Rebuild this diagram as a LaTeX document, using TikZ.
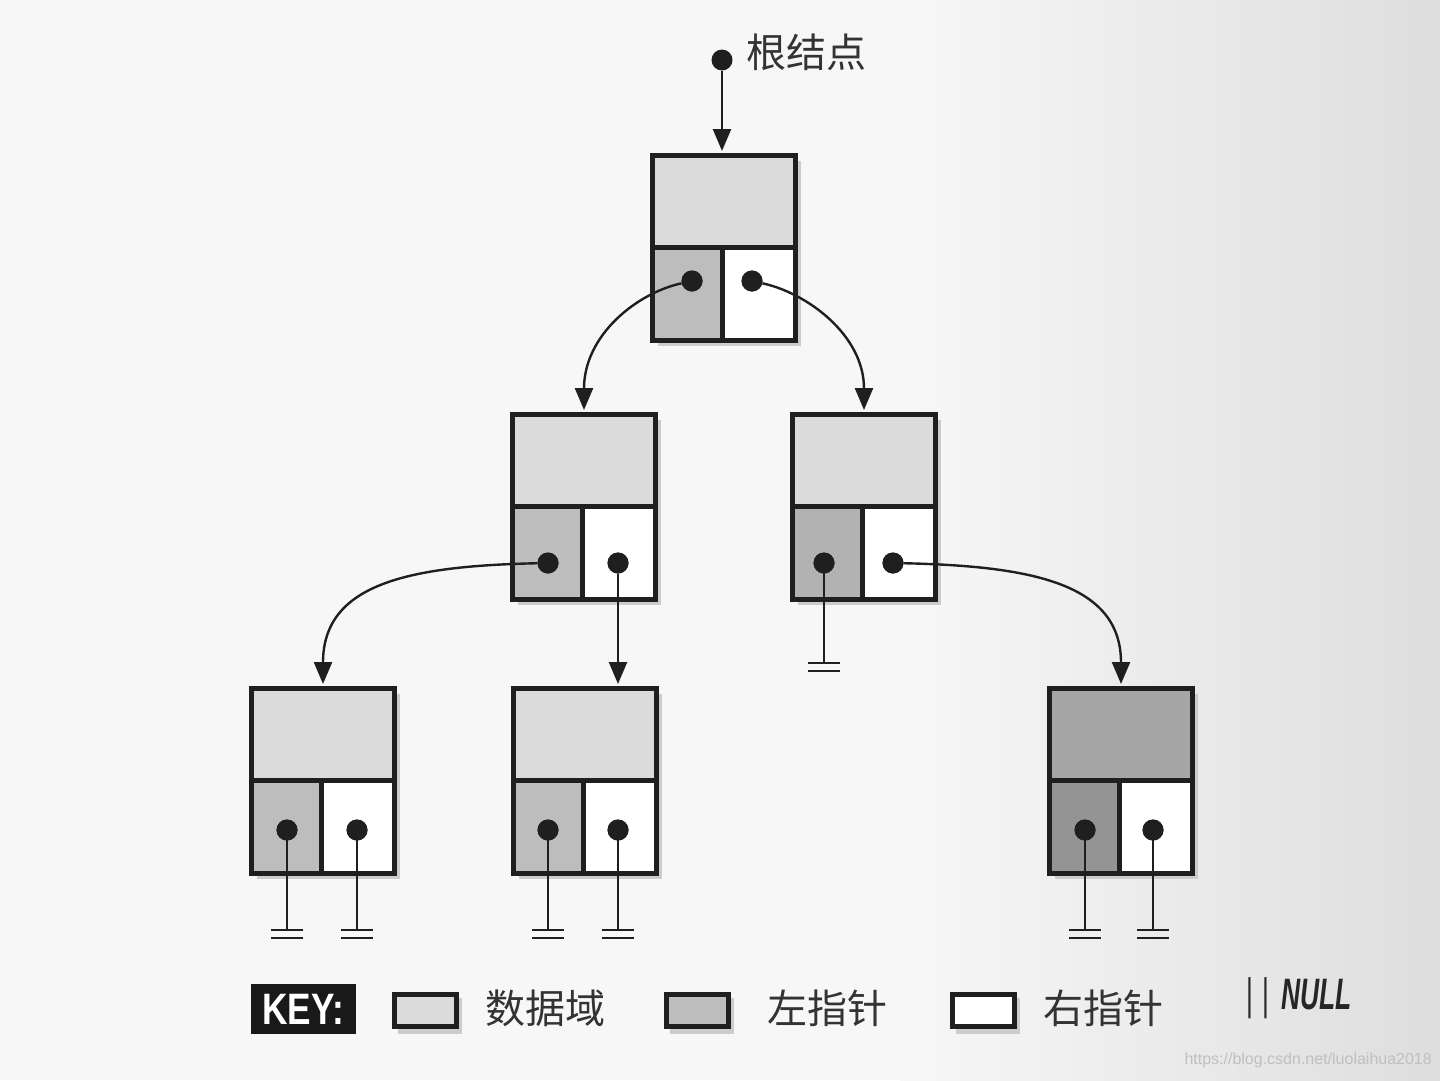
\documentclass[tikz,border=0pt]{standalone}
\usepackage{graphicx}
\usepackage{fontspec}
\setmainfont{Liberation Sans}
\newfontfamily\cjk{Noto Sans CJK SC}
\usetikzlibrary{arrows.meta,calc}
\definecolor{datac}{gray}{0.86}
\definecolor{leftc}{gray}{0.74}
\definecolor{leftdark}{gray}{0.70}
\definecolor{datadark}{gray}{0.65}
\definecolor{leftdarker}{gray}{0.58}
\definecolor{inkc}{gray}{0.12}
\tikzset{
  box/.style={draw=inkc, line width=5pt, inner sep=0pt, anchor=north west},
  dot/.style={circle, fill=inkc, minimum size=21pt, inner sep=0pt},
  link/.style={line width=2.4pt, draw=inkc, -{Triangle[width=18pt,length=22pt]}},
  nullline/.style={line width=2.4pt, draw=inkc},
  cjktext/.style={font=\cjk\fontsize{40}{40}\selectfont, text=black!80, inner sep=0pt},
  keybox/.style={draw=inkc, line width=5pt, inner sep=0pt, minimum width=62pt, minimum height=32pt},
  shadowc/.style={fill=black!20},
}
% #1 name, #2 x, #3 y, #4 data fill, #5 left fill, #6 dot y offset, #7 left dot x offset, #8 right dot x offset
\newcommand\tnode[8]{%
  \fill[shadowc] (#2+8,#3+8) rectangle (#2+151,#3+193);
  \node[box, fill=#4, minimum width=143pt, minimum height=92pt] (#1) at (#2,#3) {};
  \node[box, fill=#5, minimum width=70pt, minimum height=93pt] (#1L) at (#2,#3+92) {};
  \node[box, fill=white, minimum width=73pt, minimum height=93pt] (#1R) at (#2+70,#3+92) {};
  \node[dot] (#1l) at (#2+#7,#3+#6) {};
  \node[dot] (#1r) at (#2+#8,#3+#6) {};
}
% #1 coordinate name, #2 dot node, #3 end y
\newcommand\nullptr[3]{%
  \coordinate (#1) at (#2 |- 0,#3);
  \draw[nullline] (#2.center) -- (#1);
  \draw[nullline] (#1) ++(-16,0) -- ++(32,0);
  \draw[nullline] (#1) ++(-16,8) -- ++(32,0);
}
\begin{document}
\begin{tikzpicture}[x=1pt,y=-1pt]
\useasboundingbox (0,0) rectangle (1440,1080);
\fill[black!3] (0,0) rectangle (1440,1080);
\shade[left color=black!3, right color=black!13] (900,0) rectangle (1440,1080);

% tree nodes
\tnode{r}{650}{153}{datac}{leftc}{128}{42}{102}
\tnode{a}{510}{412}{datac}{leftc}{151}{38}{108}
\tnode{b}{790}{412}{datac}{leftdark}{151}{34}{103}
\tnode{c}{249}{686}{datac}{leftc}{144}{38}{108}
\tnode{d}{511}{686}{datac}{leftc}{144}{37}{107}
\tnode{e}{1047}{686}{datadark}{leftdarker}{144}{38}{106}

% root pointer
\node[dot] (start) at (722,60) {};
\node[cjktext, anchor=west] (rootlbl) at (746,52) {根结点};
\draw[link] (start) -- ([yshift=2pt]r.north -| start);

% links
\draw[link] (rl) .. controls +(-55,12) and +(0,-75) .. ([yshift=2pt]a.north);
\draw[link] (rr) .. controls +(55,12) and +(0,-75) .. ([yshift=2pt]b.north);
\draw[link] (al) .. controls +(-140,3) and +(0,-100) .. ([yshift=2pt]c.north);
\draw[link] (ar) -- ([yshift=2pt]d.north -| ar);
\draw[link] (br) .. controls +(140,3) and +(0,-100) .. ([yshift=2pt]e.north);

% redraw dots on top of link starts
\foreach \n in {rl,rr,al,ar,br} \fill[inkc] (\n) circle (10.5);

% null pointers
\nullptr{nb}{bl}{663}
\nullptr{nc1}{cl}{930}
\nullptr{nc2}{cr}{930}
\nullptr{nd1}{dl}{930}
\nullptr{nd2}{dr}{930}
\nullptr{ne1}{el}{930}
\nullptr{ne2}{er}{930}
\foreach \n in {bl,cl,cr,dl,dr,el,er} \fill[inkc] (\n) circle (10.5);

% key
\node[fill=black!90, minimum width=105pt, minimum height=50pt, inner sep=0pt,
      text=white, font=\bfseries\fontsize{44}{44}\selectfont] (key) at (303,1009) {\scalebox{0.8}[1]{KEY:}};

\fill[shadowc] (398,998) rectangle (462,1034);
\node[keybox, fill=datac] (k1) at (425,1010) {};
\node[cjktext, anchor=west] (t1) at (485,1008) {数据域};

\fill[shadowc] (670,998) rectangle (734,1034);
\node[keybox, fill=leftc] (k2) at (697,1010) {};
\node[cjktext, anchor=west] (t2) at (767,1008) {左指针};

\fill[shadowc] (956,998) rectangle (1020,1034);
\node[keybox, fill=white] (k3) at (983,1010) {};
\node[cjktext, anchor=west] (t3) at (1043,1008) {右指针};

\node[inner sep=0pt, text=black!85, font=\fontsize{44}{44}\selectfont, anchor=west] (nullkey) at (1246,998)
  {\scalebox{0.6}[1]{|\hspace{16pt}|\hspace{20pt}\textbf{\textit{NULL}}}};

\node[inner sep=0pt, text=black!25, font=\fontsize{16}{16}\selectfont, anchor=east] (wm) at (1432,1060) {https://blog.csdn.net/luolaihua2018};
\end{tikzpicture}
\end{document}
